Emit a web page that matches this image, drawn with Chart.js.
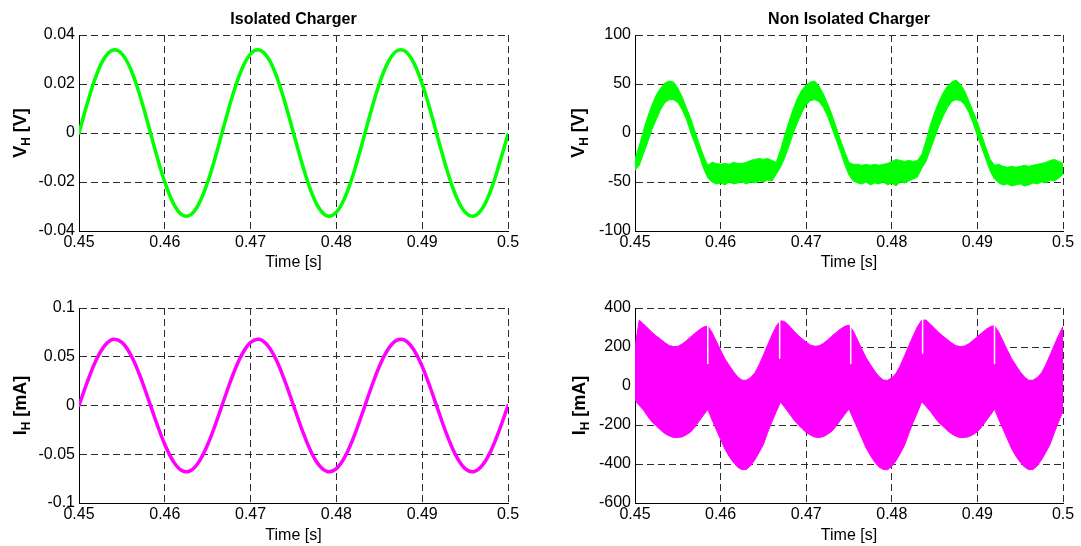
<!DOCTYPE html>
<html>
<head>
<meta charset="utf-8">
<script src="https://cdn.jsdelivr.net/npm/chart.js@4.4.1/dist/chart.umd.min.js"></script>
<style>
  html, body { margin: 0; padding: 0; background: #fff; }
  #wrap { position: relative; width: 1081px; height: 546px; }
  .cell { position: absolute; }
</style>
</head>
<body>
<div id="wrap">
  <canvas id="vIso" class="cell" width="540" height="273" style="left:0;top:0"></canvas>
  <canvas id="vNon" class="cell" width="541" height="273" style="left:540px;top:0"></canvas>
  <canvas id="iIso" class="cell" width="540" height="273" style="left:0;top:273px"></canvas>
  <canvas id="iNon" class="cell" width="541" height="273" style="left:540px;top:273px"></canvas>
</div>
<script>
// time axis
const timeTicks = [0.45, 0.46, 0.47, 0.48, 0.49, 0.5];
const timeTickLabels = ['0.45', '0.46', '0.47', '0.48', '0.49', '0.5'];

// 1 ms samples (isolated charger)
const timeIso = [
  0.450, 0.451, 0.452, 0.453, 0.454, 0.455, 0.456, 0.457, 0.458, 0.459,
  0.460, 0.461, 0.462, 0.463, 0.464, 0.465, 0.466, 0.467, 0.468, 0.469,
  0.470, 0.471, 0.472, 0.473, 0.474, 0.475, 0.476, 0.477, 0.478, 0.479,
  0.480, 0.481, 0.482, 0.483, 0.484, 0.485, 0.486, 0.487, 0.488, 0.489,
  0.490, 0.491, 0.492, 0.493, 0.494, 0.495, 0.496, 0.497, 0.498, 0.499,
  0.500
];
const vIso = [
  0, 0.0125, 0.0233, 0.0308, 0.0339, 0.0323, 0.0262, 0.0164, 0.0043, -0.0085,
  -0.0200, -0.0287, -0.0334, -0.0334, -0.0287, -0.0200, -0.0085, 0.0043, 0.0164, 0.0262,
  0.0323, 0.0339, 0.0308, 0.0233, 0.0125, 0, -0.0125, -0.0233, -0.0308, -0.0339,
  -0.0323, -0.0262, -0.0164, -0.0043, 0.0085, 0.0200, 0.0287, 0.0334, 0.0334, 0.0287,
  0.0200, 0.0085, -0.0043, -0.0164, -0.0262, -0.0323, -0.0339, -0.0308, -0.0233, -0.0125,
  -0.0005
];
const iIso = [
  0, 0.0250, 0.0466, 0.0615, 0.0679, 0.0647, 0.0524, 0.0328, 0.0085, -0.0169,
  -0.0400, -0.0574, -0.0668, -0.0668, -0.0574, -0.0400, -0.0169, 0.0085, 0.0328, 0.0524,
  0.0647, 0.0679, 0.0615, 0.0466, 0.0250, 0, -0.0250, -0.0466, -0.0615, -0.0679,
  -0.0647, -0.0524, -0.0328, -0.0085, 0.0169, 0.0400, 0.0574, 0.0668, 0.0668, 0.0574,
  0.0400, 0.0169, -0.0085, -0.0328, -0.0524, -0.0647, -0.0679, -0.0615, -0.0466, -0.0250,
  0
];

// 0.5 ms samples (non isolated charger), envelope of the ripple band
const timeNon = [
  0.4500, 0.4505, 0.4510, 0.4515, 0.4520, 0.4525, 0.4530, 0.4535, 0.4540, 0.4545,
  0.4550, 0.4555, 0.4560, 0.4565, 0.4570, 0.4575, 0.4580, 0.4585, 0.4590, 0.4595,
  0.4600, 0.4605, 0.4610, 0.4615, 0.4620, 0.4625, 0.4630, 0.4635, 0.4640, 0.4645,
  0.4650, 0.4655, 0.4660, 0.4665, 0.4670, 0.4675, 0.4680, 0.4685, 0.4690, 0.4695,
  0.4700, 0.4705, 0.4710, 0.4715, 0.4720, 0.4725, 0.4730, 0.4735, 0.4740, 0.4745,
  0.4750, 0.4755, 0.4760, 0.4765, 0.4770, 0.4775, 0.4780, 0.4785, 0.4790, 0.4795,
  0.4800, 0.4805, 0.4810, 0.4815, 0.4820, 0.4825, 0.4830, 0.4835, 0.4840, 0.4845,
  0.4850, 0.4855, 0.4860, 0.4865, 0.4870, 0.4875, 0.4880, 0.4885, 0.4890, 0.4895,
  0.4900, 0.4905, 0.4910, 0.4915, 0.4920, 0.4925, 0.4930, 0.4935, 0.4940, 0.4945,
  0.4950, 0.4955, 0.4960, 0.4965, 0.4970, 0.4975, 0.4980, 0.4985, 0.4990, 0.4995,
  0.5000
];
const vNonUpper = [
  -26, -13, 3, 17, 29, 39, 46, 51, 53, 52, 46, 37, 26, 15, 2, -11, -23, -33, -30, -31,
  -32, -31, -32, -30, -31, -31, -30, -28, -27, -26, -27, -26, -28,
  -30, -17, -2, 12, 25, 36, 44, 49, 52, 53, 48, 40, 30, 19, 6, -7, -19, -30, -32, -32,
  -33, -32, -33, -32, -33, -32, -31, -29, -27, -28, -29, -28, -29, -28,
  -22, -8, 8, 21, 32, 41, 48, 52, 54, 50, 43, 33, 22, 11, -2, -15, -27, -33, -32, -34,
  -35, -34, -35, -34, -33, -34, -33, -32, -31, -30, -28, -27, -29, -31
];
const vNonLower = [
  -38, -33, -21, -9, 4, 14, 24, 31, 34, 34, 31, 24, 14, 1, -11, -23, -36, -46, -50, -52,
  -51, -53, -50, -52, -51, -50, -52, -50, -51, -49, -50, -48, -49,
  -42, -35, -25, -13, 0, 11, 21, 29, 33, 34, 32, 26, 17, 5, -7, -19, -32, -43, -49, -51,
  -52, -50, -53, -51, -52, -50, -53, -51, -54, -50, -51, -49, -47, -45,
  -36, -29, -17, -5, 7, 17, 26, 32, 34, 33, 29, 21, 10, -3, -15, -27, -39, -47, -51, -53,
  -52, -54, -53, -52, -54, -53, -51, -52, -50, -51, -48, -49, -46, -42
];
const iNonUpper = [
  200, 338, 318, 296, 275, 256, 240, 222, 208, 202, 203, 215, 232, 252, 270, 288, 302, 308,
  275, 230, 184, 140, 107, 74, 47, 30, 30, 43, 67, 109, 159, 211, 261, 307,
  335, 330, 310, 285, 262, 243, 225, 210, 204, 206, 218, 236, 256, 274, 292, 306, 312,
  282, 236, 190, 145, 110, 77, 49, 31, 29, 42, 65, 106, 156, 208, 258, 305, 338,
  338, 318, 296, 274, 255, 238, 220, 207, 202, 205, 217, 234, 254, 272, 290, 304, 310,
  276, 230, 184, 140, 106, 73, 46, 30, 30, 44, 68, 110, 160, 212, 262, 305
];
const iNonLower = [
  -72, -100, -124, -157, -185, -205, -227, -244, -256, -264, -264, -261, -250, -236, -211, -180, -150, -120,
  -174, -224, -274, -323, -361, -392, -417, -429, -428, -409, -379, -341, -300, -238, -183, -132,
  -82, -110, -140, -170, -196, -218, -238, -252, -262, -264, -260, -248, -232, -206, -176, -146, -118,
  -168, -218, -268, -318, -357, -390, -415, -428, -430, -412, -383, -345, -303, -242, -186, -136, -80,
  -105, -130, -160, -188, -208, -229, -246, -258, -265, -264, -260, -249, -235, -210, -180, -150, -118,
  -172, -222, -272, -322, -360, -391, -416, -429, -428, -409, -378, -340, -298, -238, -182, -130
];
// narrow gaps in the current ripple band
const slitTimes = [0.4585, 0.4669, 0.4752, 0.4836, 0.4920];
const slitTop = [320, 345, 320, 345, 320];
const slitBottom = [116, 142, 116, 168, 116];

// y ticks
const vIsoTicks = [-0.04, -0.02, 0, 0.02, 0.04];
const vIsoTickLabels = ['-0.04', '-0.02', '0', '0.02', '0.04'];
const vNonTicks = [-100, -50, 0, 50, 100];
const vNonTickLabels = ['-100', '-50', '0', '50', '100'];
const iIsoTicks = [-0.1, -0.05, 0, 0.05, 0.1];
const iIsoTickLabels = ['-0.1', '-0.05', '0', '0.05', '0.1'];
const iNonTicks = [-600, -400, -200, 0, 200, 400];
const iNonTickLabels = ['-600', '-400', '-200', '0', '200', '400'];

const FONT = "'Liberation Sans', Arial, Helvetica, sans-serif";
const GREEN = '#00ff00';
const MAGENTA = '#ff00ff';

const pts = (xs, ys) => xs.map((x, i) => ({ x: x, y: ys[i] }));

function slitPoints() {
  const out = [];
  slitTimes.forEach((t, i) => {
    out.push({ x: t, y: slitTop[i] }, { x: t, y: slitBottom[i] }, { x: t, y: null });
  });
  return out;
}

// chart title and y label with subscript
const matlabLabels = {
  id: 'matlabLabels',
  afterDraw(chart, args, o) {
    const { ctx, chartArea } = chart;
    ctx.save();
    ctx.fillStyle = '#000';
    ctx.textBaseline = 'alphabetic';
    if (o.title) {
      ctx.font = 'bold 16px ' + FONT;
      ctx.textAlign = 'center';
      ctx.fillText(o.title, (chartArea.left + chartArea.right) / 2, 24);
    }
    ctx.textAlign = 'left';
    const big = 'bold 18px ' + FONT, small = 'bold 12px ' + FONT;
    ctx.font = big;
    const w1 = ctx.measureText(o.yMain).width;
    const w3 = ctx.measureText(o.yRest).width;
    ctx.font = small;
    const w2 = ctx.measureText(o.ySub).width;
    ctx.translate(o.yX, (chartArea.top + chartArea.bottom) / 2);
    ctx.rotate(-Math.PI / 2);
    const x0 = -(w1 + w2 + w3) / 2;
    ctx.font = big;
    ctx.fillText(o.yMain, x0, 0);
    ctx.font = small;
    ctx.fillText(o.ySub, x0 + w1, 4);
    ctx.font = big;
    ctx.fillText(o.yRest, x0 + w1 + w2, 0);
    ctx.restore();
  }
};

function makePlot(id, cfg) {
  return new Chart(document.getElementById(id), {
    type: 'line',
    data: { datasets: cfg.datasets },
    options: {
      responsive: false,
      devicePixelRatio: 1,
      animation: false,
      events: [],
      layout: { padding: { left: 0, right: cfg.padRight, top: 35, bottom: 0 } },
      elements: { point: { radius: 0 }, line: { borderCapStyle: 'round' } },
      plugins: {
        legend: { display: false },
        tooltip: { enabled: false },
        matlabLabels: cfg.labels
      },
      scales: {
        x: {
          type: 'linear', min: 0.45, max: 0.5,
          afterBuildTicks: s => { s.ticks = timeTicks.map(v => ({ value: v })); },
          afterFit: s => { s.height = cfg.xHeight; },
          ticks: {
            padding: 2, color: '#000', autoSkip: false, maxRotation: 0,
            font: { family: FONT, size: 16 },
            callback: (v, i) => timeTickLabels[i]
          },
          grid: { color: '#2a2a2a', lineWidth: 1, drawTicks: false },
          border: { display: true, color: '#000', width: 1, dash: [7, 4] },
          title: {
            display: true, text: 'Time [s]', color: '#000',
            font: { family: FONT, size: 16 }, padding: { top: 0, bottom: 1 }
          }
        },
        y: {
          type: 'linear', min: cfg.yTicks[0], max: cfg.yTicks[cfg.yTicks.length - 1],
          afterBuildTicks: s => { s.ticks = cfg.yTicks.map(v => ({ value: v })); },
          afterFit: s => { s.width = cfg.yWidth; },
          ticks: {
            padding: 4, color: '#000', autoSkip: false,
            font: { family: FONT, size: 16 },
            callback: (v, i) => cfg.yTickLabels[i]
          },
          grid: { color: '#2a2a2a', lineWidth: 1, drawTicks: false },
          border: { display: true, color: '#000', width: 1, dash: [7, 4] }
        }
      }
    },
    plugins: [matlabLabels]
  });
}

makePlot('vIso', {
  padRight: 32, yWidth: 79, xHeight: 42,
  yTicks: vIsoTicks, yTickLabels: vIsoTickLabels,
  labels: { title: 'Isolated Charger', yMain: 'V', ySub: 'H', yRest: ' [V]', yX: 26 },
  datasets: [{
    data: pts(timeIso, vIso), borderColor: GREEN, borderWidth: 3.5,
    tension: 0.4, fill: false
  }]
});

makePlot('vNon', {
  padRight: 18, yWidth: 95, xHeight: 42,
  yTicks: vNonTicks, yTickLabels: vNonTickLabels,
  labels: { title: 'Non Isolated Charger', yMain: 'V', ySub: 'H', yRest: ' [V]', yX: 44 },
  datasets: [
    { data: pts(timeNon, vNonUpper), borderColor: GREEN, borderWidth: 1, tension: 0, fill: false },
    { data: pts(timeNon, vNonLower), borderColor: GREEN, borderWidth: 1, tension: 0,
      fill: '-1', backgroundColor: GREEN }
  ]
});

makePlot('iIso', {
  padRight: 32, yWidth: 79, xHeight: 43,
  yTicks: iIsoTicks, yTickLabels: iIsoTickLabels,
  labels: { yMain: 'I', ySub: 'H', yRest: ' [mA]', yX: 26 },
  datasets: [{
    data: pts(timeIso, iIso), borderColor: MAGENTA, borderWidth: 3.5,
    tension: 0.4, fill: false
  }]
});

makePlot('iNon', {
  padRight: 18, yWidth: 95, xHeight: 43,
  yTicks: iNonTicks, yTickLabels: iNonTickLabels,
  labels: { yMain: 'I', ySub: 'H', yRest: ' [mA]', yX: 45 },
  datasets: [
    { data: pts(timeNon, iNonUpper), borderColor: MAGENTA, borderWidth: 1, tension: 0, fill: false },
    { data: pts(timeNon, iNonLower), borderColor: MAGENTA, borderWidth: 1, tension: 0,
      fill: '-1', backgroundColor: MAGENTA },
    { data: slitPoints(), borderColor: '#ffffff', borderWidth: 1.5, tension: 0,
      fill: false, spanGaps: false, order: -1 }
  ]
});
</script>
</body>
</html>
